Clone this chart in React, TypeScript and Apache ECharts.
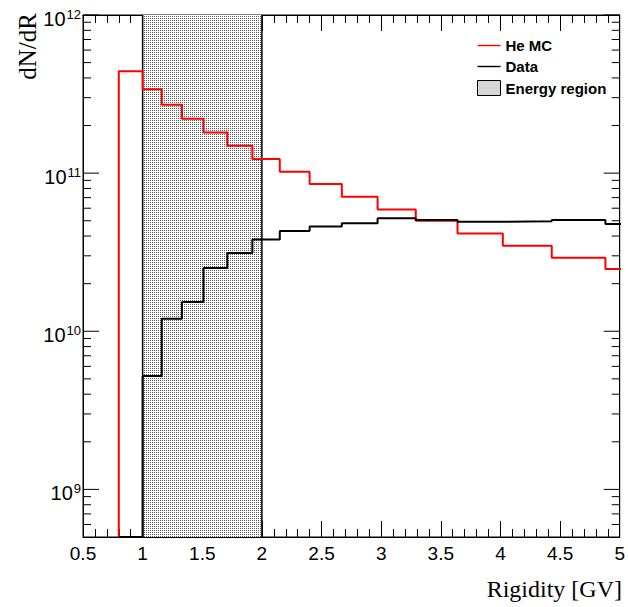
import React, { useEffect, useRef } from 'react';
import * as echarts from 'echarts';

// Histogram bin edges (variable width, GV)
const binEdges = [0.8, 1.0, 1.16, 1.33, 1.51, 1.71, 1.92, 2.15, 2.4, 2.67, 2.97, 3.29, 3.64, 4.02, 4.43, 4.88, 5.37];
// He MC bin contents
const heMC = [4.41e11, 3.39e11, 2.71e11, 2.21e11, 1.81e11, 1.49e11, 1.23e11, 1.02e11, 8.55e10, 7.1e10, 5.88e10, 4.99e10, 4.15e10, 3.47e10, 2.92e10, 2.48e10];
// Data bin contents (0 = empty bin)
const dataCounts = [0, 5.22e9, 1.2e10, 1.53e10, 2.51e10, 3.13e10, 3.8e10, 4.31e10, 4.59e10, 4.82e10, 5.19e10, 5.06e10, 4.92e10, 4.97e10, 5.06e10, 4.77e10];
// Energy region
const energyRegion = [1.0, 2.0];
// Axis tick labels
const xTickValues = [0.5, 1, 1.5, 2, 2.5, 3, 3.5, 4, 4.5, 5];
const xTickLabels = ['0.5', '1', '1.5', '2', '2.5', '3', '3.5', '4', '4.5', '5'];
const yDecadeExponents = [9, 10, 11, 12];
const yMinorMultipliers = [2, 3, 4, 5, 6, 7, 8, 9];
const yMinorDecades = [8, 9, 10, 11];

const X_MIN = 0.5;
const X_MAX = 5;
const Y_MIN = 5e8;
const Y_MAX = 1e12;

const LINE_ICON = 'path://M0,0H16V1H0Z';

function stepPoints(values: number[]) {
  const pts: number[][] = [[binEdges[0], Y_MIN]];
  values.forEach((v, i) => {
    const y = v > 0 ? v : Y_MIN;
    pts.push([binEdges[i], y]);
    pts.push([binEdges[i + 1], y]);
  });
  return pts;
}

function makePattern() {
  const c = document.createElement('canvas');
  c.width = 2;
  c.height = 2;
  const ctx = c.getContext('2d')!;
  ctx.fillStyle = '#ffffff';
  ctx.fillRect(0, 0, 2, 2);
  ctx.fillStyle = '#5a5a5a';
  ctx.fillRect(0, 0, 1, 1);
  return { image: c, repeat: 'repeat', imageWidth: 2, imageHeight: 2 } as any;
}

export default function App() {
  const ref = useRef<HTMLDivElement>(null);
  useEffect(() => {
    if (!ref.current) return;
    const chart = echarts.init(ref.current, null, { renderer: 'svg' });
    const pattern = makePattern();

    const yTicks: number[][] = [];
    yDecadeExponents.forEach((e) => yTicks.push([X_MIN, Math.pow(10, e), 1]));
    yMinorDecades.forEach((d) =>
      yMinorMultipliers.forEach((m) => {
        const v = m * Math.pow(10, d);
        if (v > Y_MIN && v < Y_MAX) yTicks.push([X_MIN, v, 0]);
      })
    );

    const xAxisCommon = {
      type: 'value',
      min: X_MIN,
      max: X_MAX,
      interval: 0.5,
      splitLine: { show: false },
      axisLine: { show: true, lineStyle: { color: '#000', width: 1 } },
      axisTick: { show: true, inside: true, length: 16, lineStyle: { color: '#000', width: 1 } },
      minorTick: { show: true, splitNumber: 5, length: 8, lineStyle: { color: '#000', width: 1 } },
    };

    chart.setOption({
      animation: false,
      textStyle: { fontFamily: 'Liberation Sans' },
      grid: { left: 83, right: 5, top: 15, bottom: 70, show: true, borderColor: '#000', borderWidth: 1, backgroundColor: 'transparent' },
      legend: {
        data: [
          { name: 'He MC', icon: LINE_ICON },
          { name: 'Data', icon: LINE_ICON },
          { name: 'Energy region', icon: 'rect', itemStyle: { color: pattern, borderColor: '#000', borderWidth: 1 } },
        ],
        orient: 'vertical',
        left: 477,
        top: 38,
        padding: 0,
        itemWidth: 23,
        itemHeight: 15,
        itemGap: 6,
        symbolKeepAspect: true,
        selectedMode: false,
        textStyle: { fontSize: 15, fontWeight: 'bold', fontFamily: 'Liberation Sans', color: '#000' },
      },
      xAxis: [
        {
          ...xAxisCommon,
          position: 'bottom',
          axisLabel: {
            show: true,
            margin: 7,
            fontSize: 19,
            color: '#000',
            fontFamily: 'Liberation Sans',
            showMinLabel: true,
            showMaxLabel: true,
            formatter: (v: number) => {
              const i = xTickValues.findIndex((t) => Math.abs(t - v) < 1e-9);
              return i >= 0 ? xTickLabels[i] : '';
            },
          },
        },
        { ...xAxisCommon, position: 'top', axisLabel: { show: false } },
      ],
      yAxis: [
        {
          type: 'log',
          logBase: 10,
          min: Y_MIN,
          max: Y_MAX,
          splitLine: { show: false },
          axisLine: { show: true, lineStyle: { color: '#000', width: 1 } },
          axisTick: { show: false },
          axisLabel: {
            show: true,
            margin: 2,
            showMinLabel: true,
            showMaxLabel: true,
            formatter: (v: number) => {
              const l = Math.log10(v);
              const e = yDecadeExponents.find((x) => Math.abs(x - l) < 1e-6);
              return e !== undefined ? `{b|10}{s|${e}}` : '';
            },
            rich: {
              b: { fontSize: 20, lineHeight: 20, fontFamily: 'Liberation Sans', color: '#000', verticalAlign: 'top', padding: [4, 0, 0, 0] },
              s: { fontSize: 13, lineHeight: 13, fontFamily: 'Liberation Sans', color: '#000', verticalAlign: 'top', padding: [3, 0, 0, 1] },
            },
          },
        },
        {
          type: 'log',
          logBase: 10,
          min: Y_MIN,
          max: Y_MAX,
          position: 'right',
          splitLine: { show: false },
          axisLine: { show: true, lineStyle: { color: '#000', width: 1 } },
          axisTick: { show: false },
          axisLabel: { show: false },
        },
      ],
      series: [
        {
          name: 'Energy region',
          type: 'custom',
          z: 1,
          silent: true,
          itemStyle: { color: pattern, borderColor: '#000', borderWidth: 1 },
          encode: { x: [0, 1], y: [2, 3] },
          data: [[energyRegion[0], energyRegion[1], Y_MIN, Y_MAX]],
          renderItem: (params: any, api: any) => {
            const p1 = api.coord([api.value(0), Y_MAX]);
            const p2 = api.coord([api.value(1), Y_MIN]);
            return {
              type: 'group',
              children: [
                { type: 'rect', shape: { x: p1[0], y: p1[1], width: p2[0] - p1[0], height: p2[1] - p1[1] }, style: { fill: pattern } },
                { type: 'line', shape: { x1: p1[0], y1: p1[1], x2: p1[0], y2: p2[1] }, style: { stroke: '#000', lineWidth: 1.5 } },
                { type: 'line', shape: { x1: p2[0], y1: p1[1], x2: p2[0], y2: p2[1] }, style: { stroke: '#000', lineWidth: 1.5 } },
              ],
            };
          },
        },
        {
          name: 'He MC',
          type: 'line',
          data: stepPoints(heMC),
          symbol: 'none',
          color: '#ff0000',
          lineStyle: { color: '#ff0000', width: 2 },
          z: 3,
        },
        {
          name: 'Data',
          type: 'line',
          data: stepPoints(dataCounts),
          symbol: 'none',
          color: '#000000',
          lineStyle: { color: '#000000', width: 2 },
          z: 4,
        },
        {
          name: 'yticks',
          type: 'custom',
          silent: true,
          z: 5,
          encode: { x: 0, y: 1 },
          data: yTicks,
          renderItem: (params: any, api: any) => {
            const v = api.value(1);
            const len = api.value(2) ? 16 : 8;
            const pl = api.coord([X_MIN, v]);
            const pr = api.coord([X_MAX, v]);
            return {
              type: 'group',
              children: [
                { type: 'line', shape: { x1: pl[0], y1: pl[1], x2: pl[0] + len, y2: pl[1] }, style: { stroke: '#000', lineWidth: 1 } },
                { type: 'line', shape: { x1: pr[0], y1: pr[1], x2: pr[0] - len, y2: pr[1] }, style: { stroke: '#000', lineWidth: 1 } },
              ],
            };
          },
        },
      ],
      graphic: [
        {
          type: 'text',
          x: 622,
          y: 589,
          style: { text: 'Rigidity [GV]', fontSize: 24, fontFamily: 'Liberation Serif', fill: '#000', align: 'right', verticalAlign: 'middle' },
        },
        {
          type: 'text',
          x: 27,
          y: 13,
          rotation: Math.PI / 2,
          style: { text: 'dN/dR', fontSize: 25, fontFamily: 'Liberation Serif', fill: '#000', align: 'right', verticalAlign: 'middle' },
        },
      ],
    });
    return () => chart.dispose();
  }, []);
  return <div ref={ref} style={{ width: 628, height: 607, position: 'absolute', left: 0, top: 0, background: '#fff' }} />;
}
